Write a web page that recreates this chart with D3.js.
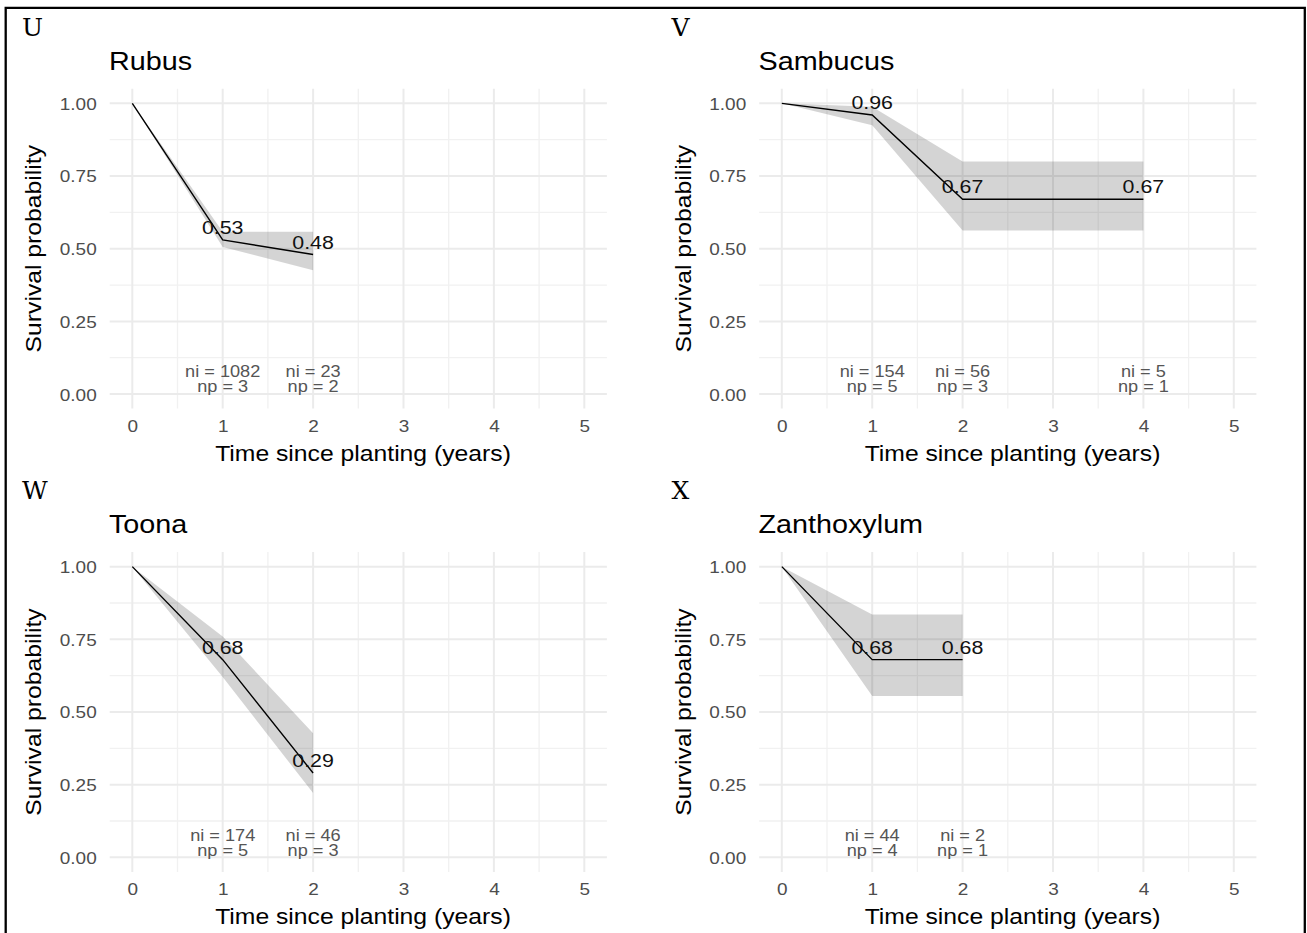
<!DOCTYPE html>
<html>
<head>
<meta charset="utf-8">
<script src="https://cdn.jsdelivr.net/npm/d3@7"></script>
<style>
  body { margin: 0; background: white; }
  svg { display: block; }
</style>
</head>
<body>
<div id="chart"></div>
<script>
// panel letters and genus names
var panelLetters = ["U", "V", "W", "X"];
var genera = ["Rubus", "Sambucus", "Toona", "Zanthoxylum"];

// survival curves (time in years)
var rubusTime = [0, 1, 2];
var rubusSurv = [1, 0.53, 0.48];
var rubusUpper = [1, 0.558, 0.558];
var rubusLower = [1, 0.506, 0.426];

var sambucusTime = [0, 1, 2, 4];
var sambucusSurv = [1, 0.96, 0.67, 0.67];
var sambucusUpper = [1, 0.988, 0.80, 0.80];
var sambucusLower = [1, 0.925, 0.563, 0.563];

var toonaTime = [0, 1, 2];
var toonaSurv = [1, 0.68, 0.29];
var toonaUpper = [1, 0.76, 0.427];
var toonaLower = [1, 0.62, 0.221];

var zanthoxylumTime = [0, 1, 2];
var zanthoxylumSurv = [1, 0.68, 0.68];
var zanthoxylumUpper = [1, 0.835, 0.835];
var zanthoxylumLower = [1, 0.555, 0.555];

// ni / np counts under the curves
var rubusCountTime = [1, 2];
var rubusNi = [1082, 23];
var rubusNp = [3, 2];

var sambucusCountTime = [1, 2, 4];
var sambucusNi = [154, 56, 5];
var sambucusNp = [5, 3, 1];

var toonaCountTime = [1, 2];
var toonaNi = [174, 46];
var toonaNp = [5, 3];

var zanthoxylumCountTime = [1, 2];
var zanthoxylumNi = [44, 2];
var zanthoxylumNp = [4, 1];

var xTicks = [0, 1, 2, 3, 4, 5];
var yTicks = [0, 0.25, 0.5, 0.75, 1];

var curves = [
    { time: rubusTime, surv: rubusSurv, upper: rubusUpper, lower: rubusLower, nt: rubusCountTime, ni: rubusNi, np: rubusNp },
    { time: sambucusTime, surv: sambucusSurv, upper: sambucusUpper, lower: sambucusLower, nt: sambucusCountTime, ni: sambucusNi, np: sambucusNp },
    { time: toonaTime, surv: toonaSurv, upper: toonaUpper, lower: toonaLower, nt: toonaCountTime, ni: toonaNi, np: toonaNp },
    { time: zanthoxylumTime, surv: zanthoxylumSurv, upper: zanthoxylumUpper, lower: zanthoxylumLower, nt: zanthoxylumCountTime, ni: zanthoxylumNi, np: zanthoxylumNp }
];

var W = 1307, H = 933;
var SX = 1.15; // text is rendered a little wide in the original
var sans = "'Liberation Sans', Arial, sans-serif";

var svg = d3.select("#chart").append("svg")
    .attr("width", W)
    .attr("height", H);

svg.append("rect").attr("width", W).attr("height", H).attr("fill", "white");

// outer frame (bottom edge cut off in the original)
svg.append("path")
    .attr("d", "M5.7,940V7.8H1304.8V940")
    .attr("fill", "none")
    .attr("stroke", "black")
    .attr("stroke-width", 2.3);

var x = d3.scaleLinear().domain([-0.25, 5.25]).range([109.7, 606.9]);
var y = d3.scaleLinear().domain([-0.05, 1.05]).range([408.6, 88.8]);

function addText(g, px, py, s, size, anchor, fill, extra) {
    return g.append("text")
        .attr("transform", "translate(" + px + "," + py + ")" + (extra || "") + " scale(" + SX + ",1)")
        .attr("text-anchor", anchor)
        .attr("font-family", sans)
        .attr("font-size", size)
        .attr("fill", fill)
        .text(s);
}

curves.forEach(function(c, i) {
    var ox = (i % 2) * 649.5;
    var oy = Math.floor(i / 2) * 463.3;
    var g = svg.append("g").attr("transform", "translate(" + ox + "," + oy + ")");

    // panel letter
    g.append("text")
        .attr("x", 22).attr("y", 36)
        .attr("font-family", "'DejaVu Serif', serif")
        .attr("font-size", 25)
        .attr("fill", "black")
        .text(panelLetters[i]);

    // title
    addText(g, 109, 70, genera[i], 25, "start", "black");

    // grid
    var grid = g.append("g");
    var xMinor = d3.range(0.5, 5, 1);
    var yMinor = d3.range(0.125, 1, 0.25);
    grid.selectAll(".xminor").data(xMinor).enter().append("line")
        .attr("x1", d => x(d)).attr("x2", d => x(d))
        .attr("y1", y.range()[1]).attr("y2", y.range()[0])
        .attr("stroke", "#F1F1F1").attr("stroke-width", 1.3);
    grid.selectAll(".yminor").data(yMinor).enter().append("line")
        .attr("y1", d => y(d)).attr("y2", d => y(d))
        .attr("x1", x.range()[0]).attr("x2", x.range()[1])
        .attr("stroke", "#F1F1F1").attr("stroke-width", 1.3);
    grid.selectAll(".xmajor").data(xTicks).enter().append("line")
        .attr("x1", d => x(d)).attr("x2", d => x(d))
        .attr("y1", y.range()[1]).attr("y2", y.range()[0])
        .attr("stroke", "#EBEBEB").attr("stroke-width", 2);
    grid.selectAll(".ymajor").data(yTicks).enter().append("line")
        .attr("y1", d => y(d)).attr("y2", d => y(d))
        .attr("x1", x.range()[0]).attr("x2", x.range()[1])
        .attr("stroke", "#EBEBEB").attr("stroke-width", 2);

    // axes (labels only, theme_minimal)
    var xa = g.append("g")
        .attr("transform", "translate(0," + y.range()[0] + ")")
        .call(d3.axisBottom(x).tickValues(xTicks).tickFormat(d3.format("d")).tickSize(0));
    xa.select(".domain").remove();
    xa.selectAll("text")
        .attr("y", 23.1).attr("dy", 0)
        .attr("transform", "scale(" + SX + ",1)")
        .attr("font-family", sans).attr("font-size", 16.5).attr("fill", "#4D4D4D");

    var ya = g.append("g")
        .attr("transform", "translate(" + x.range()[0] + ",0)")
        .call(d3.axisLeft(y).tickValues(yTicks).tickFormat(d3.format(".2f")).tickSize(0));
    ya.select(".domain").remove();
    ya.selectAll("text")
        .attr("x", -13 / SX).attr("dy", "0.36em")
        .attr("transform", "scale(" + SX + ",1)")
        .attr("font-family", sans).attr("font-size", 16.5).attr("fill", "#4D4D4D");

    // axis titles
    addText(g, 363, 461, "Time since planting (years)", 21.5, "middle", "black");
    addText(g, 41, (y.range()[0] + y.range()[1]) / 2, "Survival probability", 21.5, "middle", "black", " rotate(-90)");

    // confidence band
    var pts = c.time.map(function(t, k) {
        return { t: t, s: c.surv[k], hi: c.upper[k], lo: c.lower[k] };
    });
    var area = d3.area()
        .x(d => x(d.t))
        .y0(d => y(d.lo))
        .y1(d => y(d.hi));
    g.append("path")
        .datum(pts)
        .attr("d", area)
        .attr("fill", "black")
        .attr("fill-opacity", 0.17);

    // survival line
    var line = d3.line().x(d => x(d.t)).y(d => y(d.s));
    g.append("path")
        .datum(pts)
        .attr("d", line)
        .attr("fill", "none")
        .attr("stroke", "black")
        .attr("stroke-width", 1.4);

    // value labels
    pts.slice(1).forEach(function(d) {
        addText(g, x(d.t), y(d.s) - 6, d3.format(".2f")(d.s), 18.6, "middle", "#111");
    });

    // ni / np
    c.nt.forEach(function(t, k) {
        addText(g, x(t), 377.3, "ni = " + c.ni[k], 15.8, "middle", "#555");
        addText(g, x(t), 392.3, "np = " + c.np[k], 15.8, "middle", "#555");
    });
});
</script>
</body>
</html>
